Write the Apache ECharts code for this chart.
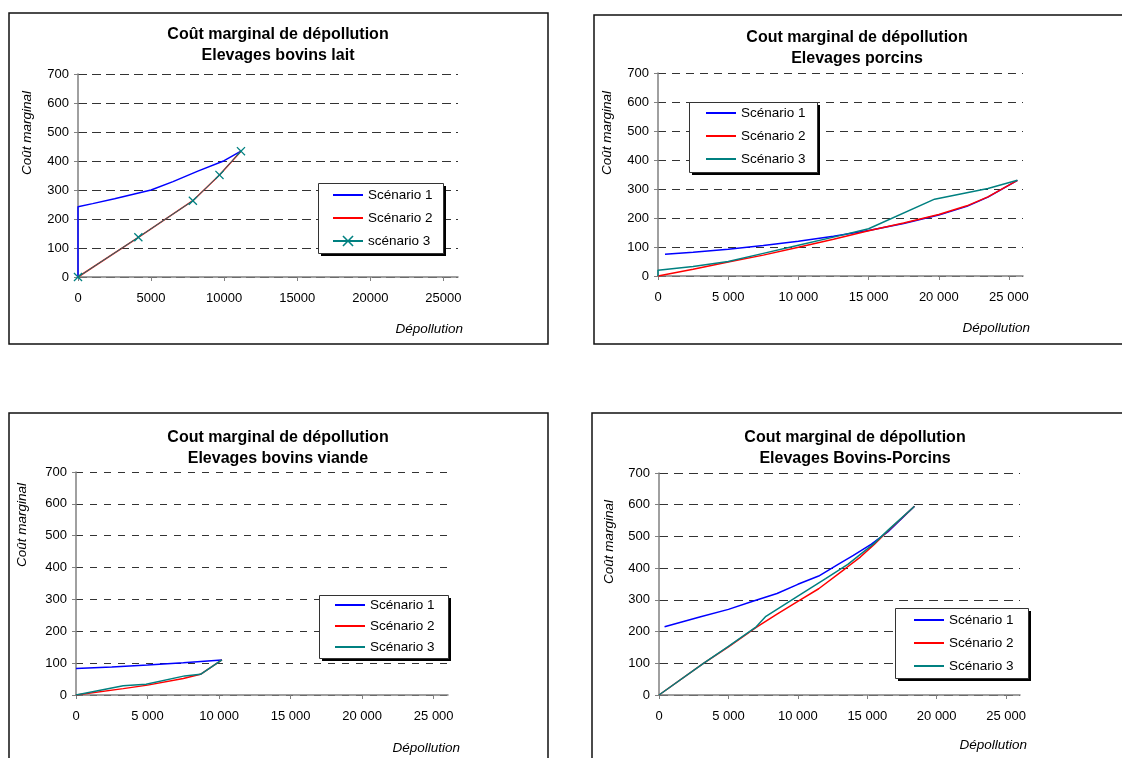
<!DOCTYPE html>
<html><head><meta charset="utf-8">
<script src="https://cdn.jsdelivr.net/npm/echarts@6/dist/echarts.min.js"></script>
<style>html,body{margin:0;padding:0;background:#fff}#c{width:1122px;height:758px}</style>
</head><body><div id="c"></div><script>
// ---------- DATA ----------
const xTickValues = [0, 5000, 10000, 15000, 20000, 25000];
const xTickLabelsPlain = ['0', '5000', '10000', '15000', '20000', '25000'];
const xTickLabelsSpaced = ['0', '5 000', '10 000', '15 000', '20 000', '25 000'];
const yTickLabels = ['0', '100', '200', '300', '400', '500', '600', '700'];

const titles = [
  'Coût marginal de dépollution\nElevages bovins lait',
  'Cout marginal de dépollution\nElevages porcins',
  'Cout marginal de dépollution\nElevages bovins viande',
  'Cout marginal de dépollution\nElevages Bovins-Porcins'
];
const yAxisName = 'Coût marginal';
const xAxisName = 'Dépollution';
const seriesNames = ['Scénario 1', 'Scénario 2', 'Scénario 3'];
const seriesNamesLait = ['Scénario 1', 'Scénario 2', 'scénario 3'];

// Elevages bovins lait
const lait_s1 = [[0,0],[0,242],[1000,253],[2500,270],[4000,288],[5000,300],[6500,329],[8200,365],[10000,401],[11150,434]];
const lait_s2 = [[0,0],[4130,137],[7860,263],[9680,352],[11150,434]];
const lait_s3 = [[0,0],[4130,137],[7860,263],[9680,352],[11150,434]];
// Elevages porcins
const porc_s1 = [[500,75],[2500,82],[5000,92],[7500,105],[10000,120],[12500,137],[15000,157],[17500,181],[20000,210],[22000,240],[23500,272],[25600,330]];
const porc_s2 = [[0,0],[2500,23],[5000,48],[7500,72],[10000,99],[12500,127],[15000,156],[17500,183],[20000,212],[22000,242],[23500,273],[25600,330]];
const porc_s3 = [[0,0],[0,20],[2500,33],[5000,50],[7500,78],[10000,106],[12500,134],[15000,163],[19700,265],[23500,302],[25600,330]];
// Elevages bovins viande
const viande_s1 = [[0,83],[2500,88],[5000,94],[7500,101],[10200,110]];
const viande_s2 = [[0,0],[3300,20],[5000,31],[7500,52],[8700,65],[10200,110]];
const viande_s3 = [[0,0],[3300,29],[4900,34],[7600,60],[8700,65],[10200,110]];
// Elevages Bovins-Porcins
const bp_s1 = [[400,215],[3000,247],[5000,270],[6700,295],[8500,320],[10000,349],[11500,375],[12900,412],[14000,440],[15300,476],[16500,515],[18400,595]];
const bp_s2 = [[0,0],[3200,100],[5000,152],[7000,213],[8500,255],[10000,295],[11500,335],[13400,398],[14500,435],[15500,475],[16500,518],[18400,595]];
const bp_s3 = [[0,0],[3200,100],[5000,153],[7000,215],[7700,248],[10000,312],[12000,367],[13600,412],[15500,478],[16500,520],[18400,595]];

// ---------- LAYOUT / STYLE ----------
const FONT = '"Liberation Sans", Arial, sans-serif';
const colors = ['#0000ff', '#ff0000', '#008080'];
const crossPath = 'path://M0,1L1,0L5,4L9,0L10,1L6,5L10,9L9,10L5,6L1,10L0,9L4,5Z';

const panels = [
  { grid:{left:78, top:74, width:380, height:203}, title:{x:278, y:24}, frame:[9,13,539,331],
    yName:[27,133], xName:[463,329], labels:xTickLabelsPlain, names:seriesNamesLait,
    data:[lait_s1, lait_s2, lait_s3], widths:[1.5,1.5,1], marker:true, dash:[9,5],
    legendBox:[318,183,125,70], legend:{left:318, top:183, padding:[5,13,5,14], gap:9} },
  { grid:{left:658, top:73, width:365, height:203}, title:{x:857, y:27}, frame:[594,15,540,329],
    yName:[607,133], xName:[1030,328], labels:xTickLabelsSpaced, names:seriesNames,
    data:[porc_s1, porc_s2, porc_s3], widths:[1.5,1.5,1.5], marker:false, dash:[8,6],
    legendBox:[689,102,128,70], legend:{left:689, top:102, padding:[4,15,5,16], gap:9} },
  { grid:{left:76, top:472, width:372, height:223}, title:{x:278, y:427}, frame:[9,413,539,400],
    yName:[22,525], xName:[460,748], labels:xTickLabelsSpaced, names:seriesNames,
    data:[viande_s1, viande_s2, viande_s3], widths:[1.5,1.5,1.5], marker:false, dash:[7,7],
    legendBox:[319,595,129,63], legend:{left:319, top:595, padding:[3,15,4,15], gap:7} },
  { grid:{left:659, top:473, width:361, height:222}, title:{x:855, y:427}, frame:[592,413,540,400],
    yName:[609,542], xName:[1027,745], labels:xTickLabelsSpaced, names:seriesNames,
    data:[bp_s1, bp_s2, bp_s3], widths:[1.5,1.5,1.5], marker:false, dash:[9,6],
    legendBox:[895,608,133,70], legend:{left:895, top:608, padding:[5,15,5,18], gap:9} }
];

const option = { animation:false, backgroundColor:'#fff', textStyle:{fontFamily:FONT},
  grid:[], xAxis:[], yAxis:[], series:[], legend:[], title:[], graphic:[] };

panels.forEach((p, i) => {
  option.grid.push(Object.assign({containLabel:false}, p.grid));
  option.title.push({ text: titles[i], left: p.title.x, top: p.title.y, textAlign:'center', padding:0,
    textStyle:{ fontFamily:FONT, fontSize:16, fontWeight:'bold', color:'#000', lineHeight:21 } });
  option.xAxis.push({ type:'value', gridIndex:i, min:0, max:26000, interval:5000,
    axisLine:{show:true, onZero:false, lineStyle:{color:'#808080', width:1.5}},
    axisTick:{show:true, length:4, customValues:xTickValues, lineStyle:{color:'#808080', width:1}},
    axisLabel:{customValues:xTickValues, margin:15, color:'#000', fontSize:13, fontFamily:FONT,
      formatter: v => { const k = xTickValues.indexOf(v); return k >= 0 ? p.labels[k] : ''; }},
    splitLine:{show:false} });
  option.yAxis.push({ type:'value', gridIndex:i, min:0, max:700, interval:100,
    axisLine:{show:true, lineStyle:{color:'#808080', width:1.5}},
    axisTick:{show:true, length:4, lineStyle:{color:'#808080', width:1}},
    axisLabel:{margin:9, color:'#000', fontSize:13, fontFamily:FONT,
      formatter: v => yTickLabels[Math.round(v/100)] },
    splitLine:{show:true, lineStyle:{color:'#333', width:1, type:p.dash}} });
  p.data.forEach((d, k) => {
    const s = { type:'line', name:p.names[k], xAxisIndex:i, yAxisIndex:i, data:d,
      symbol:'none', smooth:false, color:colors[k], z: 2 + k,
      lineStyle:{color:colors[k], width:p.widths[k]} };
    if (p.marker && k === 2) {
      s.symbol = crossPath; s.symbolSize = 9; s.showSymbol = true;
      s.itemStyle = {color:colors[k]};
    }
    option.series.push(s);
  });
  // legend box (border + solid shadow) drawn under the legend content
  const b = p.legendBox;
  option.graphic.push({ type:'rect', silent:true, z:10,
    shape:{x:b[0]+3, y:b[1]+3, width:b[2], height:b[3]}, style:{fill:'#000'} });
  option.graphic.push({ type:'rect', silent:true, z:11,
    shape:{x:b[0]+0.5, y:b[1]+0.5, width:b[2], height:b[3]}, style:{fill:'#fff', stroke:'#333', lineWidth:1} });
  option.legend.push({ orient:'vertical', left:p.legend.left, top:p.legend.top, padding:p.legend.padding,
    itemWidth:30, itemHeight:14, itemGap:p.legend.gap, z:20, selectedMode:false,
    textStyle:{fontFamily:FONT, fontSize:13.5, color:'#000'},
    data:p.names.map((n, k) => (p.marker && k === 2) ? {name:n} : {name:n, itemStyle:{opacity:0}}) });
  option.graphic.push({ type:'rect', silent:true, z:-10,
    shape:{x:p.frame[0], y:p.frame[1], width:p.frame[2], height:p.frame[3]},
    style:{fill:'none', stroke:'#111', lineWidth:1.5} });
  option.graphic.push({ type:'text', silent:true, x:p.yName[0], y:p.yName[1], rotation:Math.PI/2,
    style:{text:yAxisName, fill:'#000', font:'italic 13.5px ' + FONT, align:'center', verticalAlign:'middle'} });
  option.graphic.push({ type:'text', silent:true, x:p.xName[0], y:p.xName[1],
    style:{text:xAxisName, fill:'#000', font:'italic 13.5px ' + FONT, align:'right', verticalAlign:'middle'} });
});

const chart = echarts.init(document.getElementById('c'), null, {renderer:'canvas'});
chart.setOption(option);
</script></body></html>
